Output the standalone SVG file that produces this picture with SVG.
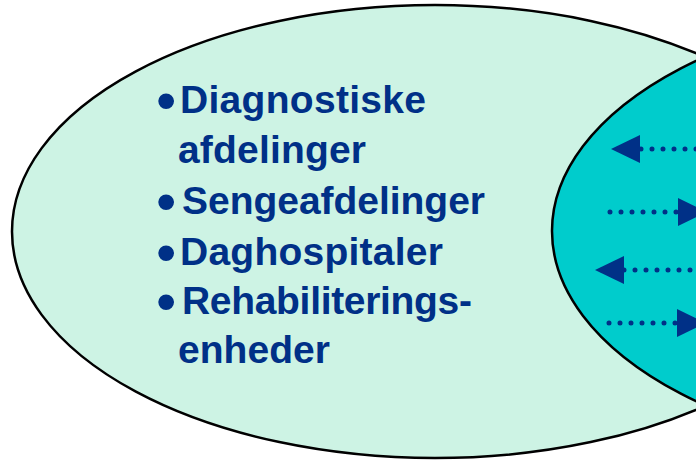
<svg xmlns="http://www.w3.org/2000/svg" width="696" height="460" viewBox="0 0 696 460">
<style>
.lbl{font-family:"Liberation Sans",Arial,sans-serif;font-weight:bold;font-size:39px;fill:#003087}
.bul{font-weight:normal;font-size:58px}
.arr{stroke:#003087;stroke-width:5;stroke-linecap:round;stroke-dasharray:0 11;fill:none}
</style>
<defs>
<marker id="ah" markerUnits="userSpaceOnUse" markerWidth="29" markerHeight="28" viewBox="0 0 29 28" refX="29" refY="14" orient="auto">
<path d="M0,0 L29,14 L0,28 z" fill="#003087"/>
</marker>
</defs>
<g id="outer">
<ellipse cx="435" cy="231.5" rx="423" ry="226.5" fill="#CDF3E4" stroke="#000" stroke-width="2.5"/>
</g>
<g id="inner">
<ellipse cx="992" cy="231" rx="440" ry="230" fill="#00CCCC" stroke="#000" stroke-width="2.5"/>
</g>
<g id="list">
<text class="lbl" y="113"><tspan class="bul" x="156" dy="7">•</tspan><tspan x="180" dy="-7" textLength="246" lengthAdjust="spacing">Diagnostiske</tspan></text>
<text class="lbl" x="178" y="163" textLength="188" lengthAdjust="spacing">afdelinger</text>
<text class="lbl" y="214"><tspan class="bul" x="156" dy="7">•</tspan><tspan x="182" dy="-7" textLength="303" lengthAdjust="spacing">Sengeafdelinger</tspan></text>
<text class="lbl" y="265"><tspan class="bul" x="156" dy="7">•</tspan><tspan x="180" dy="-7" textLength="263" lengthAdjust="spacing">Daghospitaler</tspan></text>
<text class="lbl" y="314"><tspan class="bul" x="156" dy="7">•</tspan><tspan x="182" dy="-7" textLength="290" lengthAdjust="spacing">Rehabiliterings-</tspan></text>
<text class="lbl" x="178" y="363" textLength="152" lengthAdjust="spacing">enheder</text>
</g>
<g id="connectors">
<line class="arr" x1="707" y1="149" x2="611" y2="149" marker-end="url(#ah)"/>
<line class="arr" x1="610" y1="212" x2="707" y2="212" marker-end="url(#ah)"/>
<line class="arr" x1="701" y1="270" x2="595" y2="270" marker-end="url(#ah)"/>
<line class="arr" x1="609" y1="323" x2="706" y2="323" marker-end="url(#ah)"/>
</g>
</svg>
